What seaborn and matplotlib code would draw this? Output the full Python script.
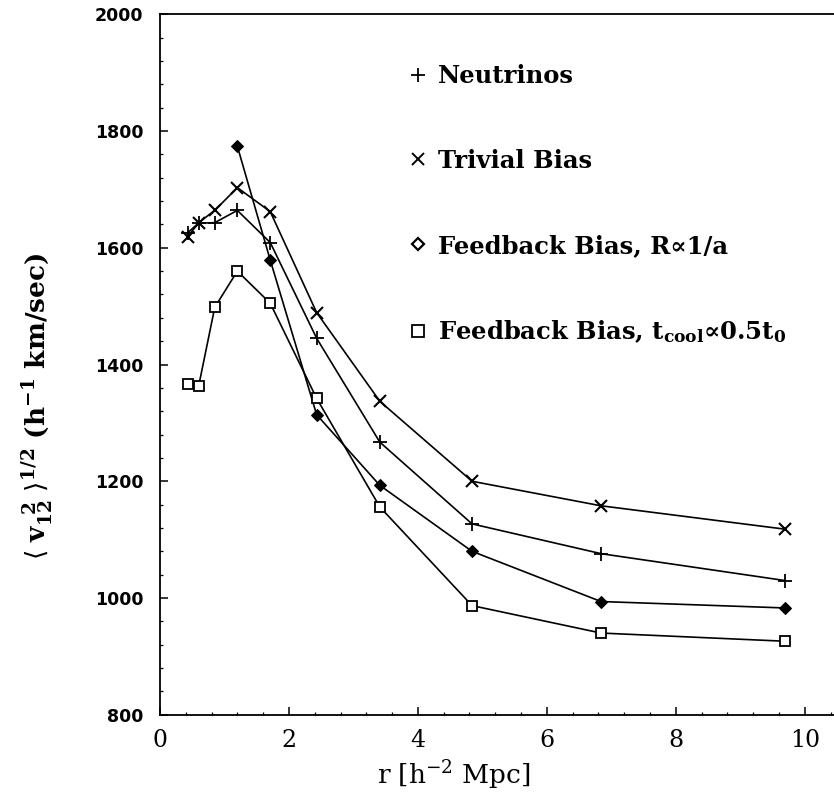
import matplotlib
matplotlib.use("Agg")
import matplotlib.pyplot as plt
from matplotlib.lines import Line2D
from matplotlib.ticker import MultipleLocator
import seaborn as sns

# pair separation r [h^-2 Mpc]
r = [0.43, 0.6, 0.85, 1.2, 1.71, 2.43, 3.41, 4.84, 6.84, 9.69]

# pairwise velocity dispersion <v12^2>^1/2 [h^-1 km/sec]
neutrinos = [1626, 1642, 1643, 1664, 1609, 1445, 1267, 1127, 1076, 1030]
trivial_bias = [1619, 1643, 1664, 1703, 1662, 1489, 1337, 1200, 1158, 1118]
feedback_r = [1774, 1579, 1314, 1193, 1080, 994, 983]          # from r = 1.2 on
feedback_tcool = [1367, 1363, 1498, 1560, 1505, 1342, 1156, 987, 940, 926]

labels = [
    "Neutrinos",
    "Trivial Bias",
    "Feedback Bias, R\u221d1/a",
    "Feedback Bias, t$_{\\mathbf{cool}}$\u221d0.5t$_\\mathbf{0}$",
]

sns.set_theme(style="ticks")
plt.rcParams["font.family"] = ["DejaVu Serif", "DejaVu Sans"]
plt.rcParams["mathtext.fontset"] = "dejavuserif"
for key in ["text.color", "axes.labelcolor", "xtick.color", "ytick.color"]:
    plt.rcParams[key] = "black"

fig = plt.figure(figsize=(8.34, 7.92), dpi=100)
ax = fig.add_axes([0.1918, 0.0975, 0.8118, 0.8845])

line_kw = dict(color="black", linewidth=1.2, estimator=None, ax=ax, legend=False)
sns.lineplot(x=r, y=neutrinos, marker="+", markersize=10, markeredgewidth=1.3,
             markeredgecolor="black", **line_kw)
sns.lineplot(x=r, y=trivial_bias, marker="x", markersize=8, markeredgewidth=1.5,
             markeredgecolor="black", **line_kw)
sns.lineplot(x=r[3:], y=feedback_r, marker="D", markersize=6,
             markerfacecolor="black", markeredgecolor="black", **line_kw)
sns.lineplot(x=r, y=feedback_tcool, marker="s", markersize=6.5, markeredgewidth=1.3,
             markerfacecolor="white", markeredgecolor="black", **line_kw)

ax.set_xlim(0, 10.5)
ax.set_ylim(800, 2000)
ax.xaxis.set_major_locator(MultipleLocator(2))
ax.xaxis.set_minor_locator(MultipleLocator(0.4))
ax.yaxis.set_major_locator(MultipleLocator(200))
ax.yaxis.set_minor_locator(MultipleLocator(40))

ax.tick_params(which="both", direction="in", top=False, right=False, colors="black")
ax.tick_params(which="major", length=6, width=1.1)
ax.tick_params(which="minor", length=2.5, width=0.9)
ax.tick_params(axis="x", which="major", pad=10, labelsize=17)
ax.tick_params(axis="y", which="major", pad=12, labelsize=12.5)
for lab in ax.get_yticklabels():
    lab.set_family("DejaVu Sans")
    lab.set_fontweight("bold")

for side in ["left", "bottom", "top", "right"]:
    ax.spines[side].set_visible(True)
    ax.spines[side].set_color("black")
    ax.spines[side].set_linewidth(1.3)

ax.set_xlabel(r"r [h$^{-2}$ Mpc]", fontsize=19)
ax.xaxis.set_label_coords(0.434, -0.063)
ax.set_ylabel(r"$\langle\ \mathbf{v}_{\mathbf{12}}^{\ \ \mathbf{2}}\ \rangle^{\mathbf{1/2}}$"
              r" (h$^{\mathbf{-1}}$ km/sec)",
              fontsize=19, fontweight="bold")
ax.yaxis.set_label_coords(-0.154, 0.44)

handles = [
    Line2D([], [], ls="none", marker="+", ms=10, mew=1.3, color="black"),
    Line2D([], [], ls="none", marker="x", ms=8, mew=1.4, color="black"),
    Line2D([], [], ls="none", marker="D", ms=6.5, mew=1.6, mfc="white", mec="black"),
    Line2D([], [], ls="none", marker="s", ms=9, mew=1.3, mfc="white", mec="black"),
]
leg = ax.legend(handles, labels, loc="upper left", bbox_to_anchor=(0.334, 0.96),
                frameon=False, handlelength=0.8, handletextpad=0.45,
                labelspacing=2.5, prop=dict(family="DejaVu Serif", weight="bold", size=17.5))
for txt in leg.get_texts():
    txt.set_color("black")

fig.savefig("out.png", dpi=100, facecolor="white")
